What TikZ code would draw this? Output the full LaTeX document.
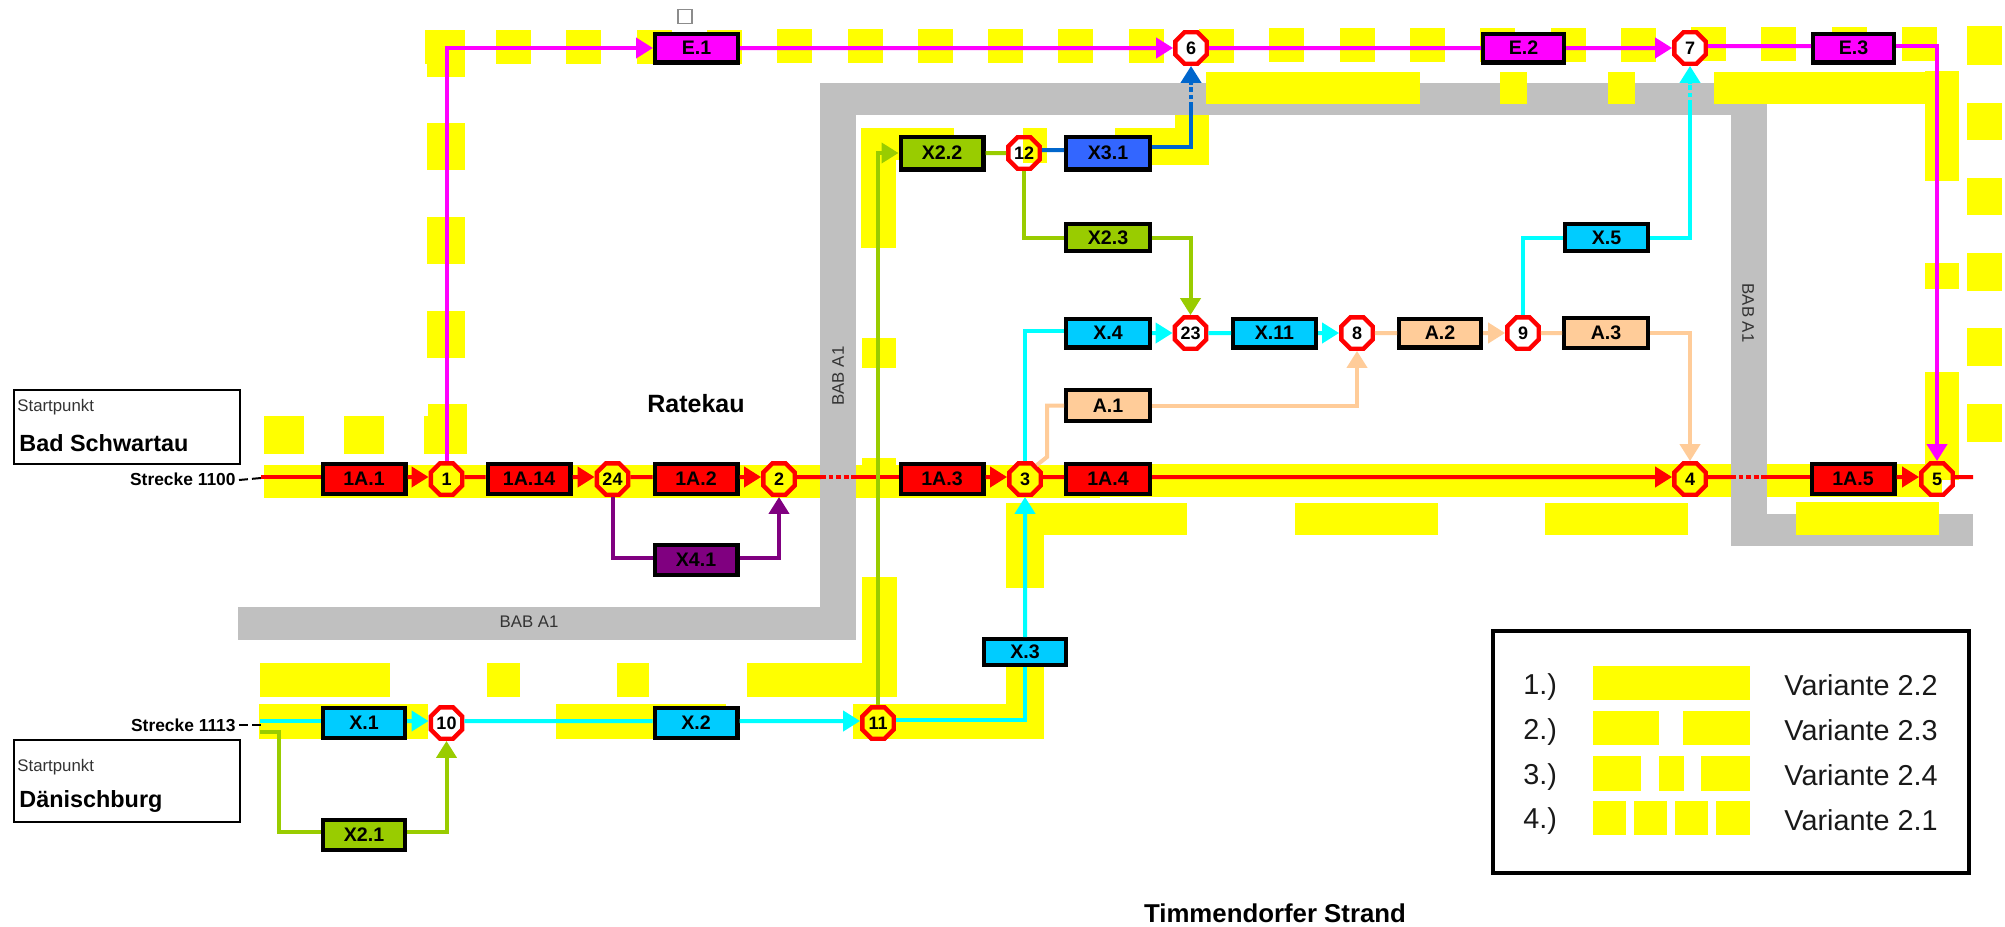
\documentclass[tikz,border=0pt]{standalone}
\usepackage{fontspec}
\setmainfont{Liberation Sans}
\usetikzlibrary{arrows.meta,shapes.geometric}
\definecolor{ybar}{HTML}{FFFF00}
\definecolor{road}{HTML}{C0C0C0}
\definecolor{cred}{HTML}{FF0000}
\definecolor{cmag}{HTML}{FF00FF}
\definecolor{ccy}{HTML}{00FFFF}
\definecolor{xcy}{HTML}{00CCFF}
\definecolor{cgr}{HTML}{99CC00}
\definecolor{cpe}{HTML}{FFCC99}
\definecolor{cpu}{HTML}{800080}
\definecolor{cbl}{HTML}{0066CC}
\definecolor{xbl}{HTML}{3366FF}
\tikzset{
  yel/.style={fill=ybar},
  bx/.style n args={3}{draw=black,line width=2.2pt,fill=#1,rectangle,inner sep=0pt,
     minimum width={(#2-4.4)*0.5pt},minimum height={(#3-4.4)*0.5pt},
     font=\fontsize{9.8}{10}\selectfont\bfseries},
  oct/.style={regular polygon,regular polygon sides=8,draw=cred,line width=2.2pt,inner sep=0pt,
     minimum size=17pt,font=\fontsize{9}{9}\selectfont\bfseries},
  octw/.style={oct,fill=white},
  lr/.style={draw=cred,line width=2pt},
  lm/.style={draw=cmag,line width=2pt},
  lc/.style={draw=ccy,line width=2pt},
  lg/.style={draw=cgr,line width=2pt},
  lp/.style={draw=cpe,line width=2pt},
  lu/.style={draw=cpu,line width=2pt},
  lb/.style={draw=cbl,line width=2pt},
  tip/.style={-{Triangle[length=8.5pt,width=10pt]}},
  dots/.style={dash pattern=on 2.4pt off 1.4pt},
  startbox/.style={draw=black,line width=0.8pt,rectangle,inner sep=0pt,minimum width=113pt,anchor=north west},
  small/.style={font=\fontsize{8.4}{9}\selectfont,inner sep=0pt,text=black!80},
  bold/.style={font=\fontsize{#1}{12}\selectfont\bfseries,inner sep=0pt},
  leg/.style={font=\fontsize{14.4}{15}\selectfont,inner sep=0pt,text=black!90},
}
\begin{document}
\begin{tikzpicture}[x=0.5pt,y=-0.5pt]
\useasboundingbox (0,0) rectangle (2005,926);
\fill[white] (0,0) rectangle (2005,926);
% yellow band under the road
\fill[yel] (264,465) rectangle (1100,498);
\fill[yel] (1100,464) rectangle (1942,497);
% road
\fill[road] (238,607) rectangle (856,640);
\fill[road] (820,83) rectangle (856,640);
\fill[road] (820,83) rectangle (1767,115);
\fill[road] (1731,83) rectangle (1767,546);
\fill[road] (1731,514) rectangle (1973,546);
% yellow dashes
\foreach \k in {0,...,20} { \fill[yel] ({496+70.3*\k},{30-3*\k/20}) rectangle +(35,34); }
\fill[yel] (425,30) rectangle (465,64);
\fill[yel] (427,30) rectangle (465,77);
\fill[yel] (427,123) rectangle (465,170);
\fill[yel] (427,217) rectangle (465,264);
\fill[yel] (427,311) rectangle (465,358);
\fill[yel] (424,416) rectangle (467,454);
\fill[yel] (428,404) rectangle (467,450);
\fill[yel] (264,416) rectangle (304,454);
\fill[yel] (344,416) rectangle (384,454);
\fill[yel] (260,663) rectangle (390,697);
\fill[yel] (487,663) rectangle (520,697);
\fill[yel] (617,663) rectangle (649,697);
\fill[yel] (259,704) rectangle (428,739);
\fill[yel] (556,704) rectangle (726,739);
\fill[yel] (747,663) rectangle (897,697);
\fill[yel] (862,577) rectangle (897,697);
\fill[yel] (853,704) rectangle (1044,739);
\fill[yel] (1006,503) rectangle (1044,588);
\fill[yel] (1006,660) rectangle (1044,739);
\fill[yel] (1044,503) rectangle (1187,535);
\fill[yel] (1295,503) rectangle (1438,535);
\fill[yel] (1545,503) rectangle (1688,535);
\fill[yel] (1796,502) rectangle (1939,535);
\fill[yel] (862,458) rectangle (896,470);
\fill[yel] (862,338) rectangle (896,368);
\fill[yel] (861,128) rectangle (896,248);
\fill[yel] (896,128) rectangle (954,160);
\fill[yel] (1023,128) rectangle (1047,163);
\fill[yel] (1115,128) rectangle (1209,165);
\fill[yel] (1175,115) rectangle (1209,165);
\fill[yel] (1206,72) rectangle (1420,104);
\fill[yel] (1500,72) rectangle (1527,104);
\fill[yel] (1608,72) rectangle (1635,104);
\fill[yel] (1714,72) rectangle (1925,104);
\fill[yel] (1925,71) rectangle (1959,181);
\fill[yel] (1925,263) rectangle (1959,289);
\fill[yel] (1925,372) rectangle (1959,480);
\fill[yel] (1967,26) rectangle (2002,65);
\fill[yel] (1967,103) rectangle (2002,140);
\fill[yel] (1967,178) rectangle (2002,215);
\fill[yel] (1967,253) rectangle (2002,291);
\fill[yel] (1967,328) rectangle (2002,366);
\fill[yel] (1967,404) rectangle (2002,442);
% road labels
\node[small] (bab1) at (529,622) {BAB A1};
\node[small,rotate=90] (bab2) at (838,376) {BAB A1};
\node[small,rotate=-90] (bab3) at (1748,313) {BAB A1};
% start boxes
\node[startbox,minimum height=37pt] (sb1) at (13,389) {};
\node[startbox,minimum height=41pt] (sb2) at (13,739) {};
\node[small,anchor=west] (st1) at (17,407) {Startpunkt};
\node[bold=11.7,anchor=west] (bs) at (19,443) {Bad Schwartau};
\node[small,anchor=west] (st2) at (17,767) {Startpunkt};
\node[bold=11.7,anchor=west] (dn) at (19,801) {Dänischburg};
\node[bold=8.7,anchor=east] (s1100) at (236,479) {Strecke 1100};
\node[bold=8.7,anchor=east] (s1113) at (236,725) {Strecke 1113};
\coordinate (sr) at (261,477);
\coordinate (sc) at (260,721);
\coordinate (sg) at (260,732);
\coordinate (sk) at (279,732);
\coordinate (d0) at (261,478);
\coordinate (d1) at (261,725);
\draw[black,line width=1pt,dash pattern=on 4.5pt off 2pt] ([xshift=1.5pt,yshift=-0.5pt]s1100.east) -- (d0);
\draw[black,line width=1pt,dash pattern=on 4.5pt off 2pt] ([xshift=1.5pt]s1113.east) -- (d1);
\node[bold=12.5] (rk) at (696,404) {Ratekau};
\node[bold=12.9] (ts) at (1275,913) {Timmendorfer Strand};
\node[draw=black!45,line width=0.6pt,rectangle,inner sep=0pt,minimum width=7pt,minimum height=7pt] (cb) at (685,16.5) {};
% boxes
\node[bx={cred}{87}{34}] (a11) at (364,479) {1A.1};
\node[bx={cred}{87}{34}] (a114) at (529,479) {1A.14};
\node[bx={cred}{87}{34}] (a12) at (696,479) {1A.2};
\node[bx={cred}{87}{34}] (a13) at (942,479) {1A.3};
\node[bx={cred}{88}{34}] (a14) at (1108,479) {1A.4};
\node[bx={cred}{87}{34}] (a15) at (1853,479) {1A.5};
\node[bx={cpu}{87}{34}] (x41) at (696,560) {X4.1};
\node[bx={xcy}{86}{34}] (x1) at (364,723) {X.1};
\node[bx={xcy}{87}{34}] (x2) at (696,723) {X.2};
\node[bx={xcy}{86}{30}] (x3) at (1025,652) {X.3};
\node[bx={cgr}{86}{34}] (x21) at (364,835) {X2.1};
\node[bx={cgr}{87}{37}] (x22) at (942,153) {X2.2};
\node[bx={xbl}{88}{37}] (x31) at (1108,153) {X3.1};
\node[bx={cgr}{88}{31}] (x23) at (1108,237.5) {X2.3};
\node[bx={xcy}{87}{31}] (x5) at (1606.5,237.5) {X.5};
\node[bx={xcy}{88}{33}] (x4) at (1108,333) {X.4};
\node[bx={xcy}{87}{33}] (x11) at (1274.5,333) {X.11};
\node[bx={cpe}{86}{33}] (a2) at (1440,333) {A.2};
\node[bx={cpe}{88}{34}] (a3) at (1606,333) {A.3};
\node[bx={cpe}{88}{35}] (a1) at (1108,405.5) {A.1};
\node[bx={cmag}{87}{33}] (e1) at (696.5,48) {E.1};
\node[bx={cmag}{85}{33}] (e2) at (1523.5,48) {E.2};
\node[bx={cmag}{85}{33}] (e3) at (1853.5,48) {E.3};
% junctions
\node[oct] (n1) at (446.5,479) {1};
\node[oct] (n24) at (612.5,479) {24};
\node[oct] (n2) at (779,479) {2};
\node[oct] (n3) at (1025,479) {3};
\node[oct] (n4) at (1690,479) {4};
\node[oct] (n5) at (1937,479) {5};
\node[oct] (n11) at (878,723) {11};
\node[octw] (n10) at (446.5,723) {10};
\node[octw] (n6) at (1191,48) {6};
\node[octw] (n7) at (1690,48) {7};
\node[oct] (n12) at (1024,153) {12};
\node[octw] (n23) at (1190.5,333) {23};
\node[octw] (n8) at (1357,333) {8};
\node[octw] (n9) at (1523,333) {9};
% red main line
\draw[lr] (sr) -- ([yshift=1pt]a11.west);
\draw[lr,tip] ([yshift=1pt]a11.east) -- ([yshift=1pt]n1.west);
\draw[lr] ([yshift=1pt]n1.east) -- ([yshift=1pt]a114.west);
\draw[lr,tip] ([yshift=1pt]a114.east) -- ([yshift=1pt]n24.west);
\draw[lr] ([yshift=1pt]n24.east) -- ([yshift=1pt]a12.west);
\draw[lr,tip] ([yshift=1pt]a12.east) -- ([yshift=1pt]n2.west);
\coordinate (g1) at (821,477);
\coordinate (g2) at (855,477);
\draw[lr] ([yshift=1pt]n2.east) -- (g1);
\draw[lr,dots] (g1) -- (g2);
\draw[lr] (g2) -- ([yshift=1pt]a13.west);
\draw[lr,tip] ([yshift=1pt]a13.east) -- ([yshift=1pt]n3.west);
\draw[lr] ([yshift=1pt]n3.east) -- ([yshift=1pt]a14.west);
\draw[lr,tip] ([yshift=1pt]a14.east) -- ([yshift=1pt]n4.west);
\coordinate (g3) at (1731,477);
\coordinate (g4) at (1764,477);
\draw[lr] ([yshift=1pt]n4.east) -- (g3);
\draw[lr,dots] (g3) -- (g4);
\draw[lr] (g4) -- ([yshift=1pt]a15.west);
\draw[lr,tip] ([yshift=1pt]a15.east) -- ([yshift=1pt]n5.west);
\coordinate (rend) at (1973,477);
\draw[lr] ([yshift=1pt]n5.east) -- (rend);
% purple
\draw[lu] (n24.south) |- ([yshift=1pt]x41.west);
\draw[lu,tip] ([yshift=1pt]x41.east) -| (n2.south);
% magenta
\draw[lm,tip] (n1.north) |- (e1.west);
\draw[lm,tip] (e1.east) -- (n6.west);
\draw[lm] (n6.east) -- (e2.west);
\draw[lm,tip] (e2.east) -- (n7.west);
\draw[lm] ([yshift=1pt]n7.east) -- ([yshift=1pt]e3.west);
\draw[lm,tip] ([yshift=1pt]e3.east) -| (n5.north);
% lower cyan and green
\draw[lc] (sc) -- ([yshift=1pt]x1.west);
\draw[lc,tip] ([yshift=1pt]x1.east) -- ([yshift=1pt]n10.west);
\draw[lc] ([yshift=1pt]n10.east) -- ([yshift=1pt]x2.west);
\draw[lc,tip] ([yshift=1pt]x2.east) -- ([yshift=1pt]n11.west);
\draw[lc] ([yshift=1.5pt]n11.east) -| (x3.south);
\draw[lc,tip] (x3.north) -- (n3.south);
\draw[lg] (sg) -- (sk) |- ([yshift=1.5pt]x21.west);
\draw[lg,tip] ([yshift=1.5pt]x21.east) -| (n10.south);
\draw[lg,tip] (n11.north) |- (x22.west);
\draw[lg] (x22.east) -- (n12.west);
\draw[lb] ([yshift=1.5pt]n12.east) -- ([yshift=1.5pt]x31.west);
\coordinate (b1) at (1191,107);
\coordinate (b2) at (1191,84);
\draw[lb] ([yshift=3pt]x31.east) -| (b1);
\draw[lb,dots] (b1) -- (b2);
\draw[lb,tip] (b2) -- (n6.south);
\draw[lg] (n12.south) |- (x23.west);
\draw[lg,tip] (x23.east) -| (n23.north);
% upper cyan
\draw[lc] (n3.north) |- ([yshift=1pt]x4.west);
\draw[lc,tip] (x4.east) -- (n23.west);
\draw[lc] (n23.east) -- (x11.west);
\draw[lc,tip] (x11.east) -- (n8.west);
\draw[lc] (n9.north) |- (x5.west);
\coordinate (c1) at (1690,105);
\coordinate (c2) at (1690,84);
\draw[lc] (x5.east) -| (c1);
\draw[lc,dots] (c1) -- (c2);
\draw[lc,tip] (c2) -- (n7.south);
% peach
\coordinate (ak) at (1047,457);
\draw[lp] (n3.50) -- (ak) |- (a1.west);
\draw[lp,tip] (a1.east) -| (n8.south);
\draw[lp] (n8.east) -- (a2.west);
\draw[lp,tip] (a2.east) -- (n9.west);
\draw[lp] (n9.east) -- (a3.west);
\draw[lp,tip] (a3.east) -| (n4.north);
% legend
\node[draw=black,line width=2pt,rectangle,inner sep=0pt,minimum width=238pt,minimum height=121pt,anchor=north west] (lgd) at (1491,629) {};
\fill[yel] (1593,666) rectangle (1750,700);
\fill[yel] (1593,711) rectangle (1659,745);
\fill[yel] (1683,711) rectangle (1750,745);
\fill[yel] (1593,756) rectangle (1641,791);
\fill[yel] (1659,756) rectangle (1684,791);
\fill[yel] (1701,756) rectangle (1750,791);
\fill[yel] (1593,801) rectangle (1626,835);
\fill[yel] (1634,801) rectangle (1667,835);
\fill[yel] (1675,801) rectangle (1708,835);
\fill[yel] (1716,801) rectangle (1750,835);
\node[leg,anchor=west] (l1) at (1523,687) {1.)};
\node[leg,anchor=west] (l2) at (1523,732) {2.)};
\node[leg,anchor=west] (l3) at (1523,777) {3.)};
\node[leg,anchor=west] (l4) at (1523,821) {4.)};
\node[leg,anchor=west] (v1) at (1784,685) {Variante 2.2};
\node[leg,anchor=west] (v2) at (1784,730) {Variante 2.3};
\node[leg,anchor=west] (v3) at (1784,775) {Variante 2.4};
\node[leg,anchor=west] (v4) at (1784,820) {Variante 2.1};
\end{tikzpicture}
\end{document}
